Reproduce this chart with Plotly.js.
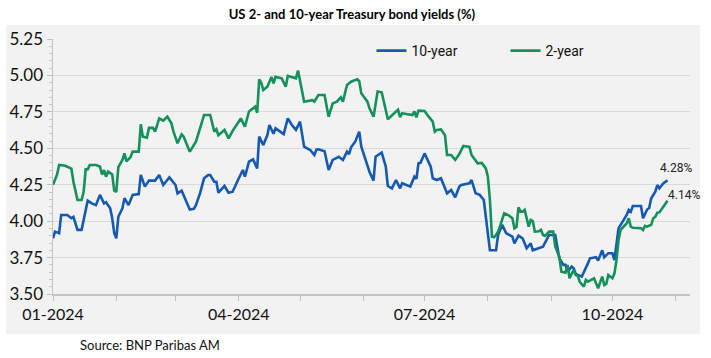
<!DOCTYPE html>
<html>
<head>
<meta charset="utf-8">
<script src="https://cdn.plot.ly/plotly-3.0.1.min.js"></script>
<style>html,body{margin:0;padding:0;background:#fff;}#chart{width:711px;height:358px;}</style>
</head>
<body>
<div id="chart"></div>
<script>
// 10-year yield (%)
const tenYearDates = ['2024-01-01','2024-01-02','2024-01-04','2024-01-05','2024-01-08','2024-01-09','2024-01-10','2024-01-11','2024-01-13','2024-01-15','2024-01-17','2024-01-18','2024-01-20','2024-01-22','2024-01-24','2024-01-25','2024-01-26','2024-01-27','2024-01-29','2024-01-30','2024-01-31','2024-02-01','2024-02-02','2024-02-04','2024-02-05','2024-02-07','2024-02-09','2024-02-12','2024-02-13','2024-02-15','2024-02-17','2024-02-20','2024-02-22','2024-02-24','2024-02-27','2024-03-01','2024-03-02','2024-03-04','2024-03-06','2024-03-08','2024-03-10','2024-03-11','2024-03-13','2024-03-15','2024-03-17','2024-03-18','2024-03-20','2024-03-21','2024-03-22','2024-03-25','2024-03-27','2024-03-29','2024-04-01','2024-04-03','2024-04-04','2024-04-06','2024-04-08','2024-04-10','2024-04-11','2024-04-13','2024-04-15','2024-04-16','2024-04-18','2024-04-19','2024-04-23','2024-04-25','2024-04-27','2024-04-29','2024-05-01','2024-05-03','2024-05-06','2024-05-08','2024-05-09','2024-05-10','2024-05-13','2024-05-15','2024-05-17','2024-05-20','2024-05-22','2024-05-24','2024-05-25','2024-05-26','2024-05-28','2024-05-30','2024-05-31','2024-06-02','2024-06-04','2024-06-06','2024-06-07','2024-06-10','2024-06-12','2024-06-13','2024-06-15','2024-06-17','2024-06-19','2024-06-20','2024-06-24','2024-06-26','2024-06-27','2024-06-28','2024-06-29','2024-07-01','2024-07-04','2024-07-05','2024-07-07','2024-07-09','2024-07-12','2024-07-14','2024-07-16','2024-07-18','2024-07-19','2024-07-23','2024-07-24','2024-07-26','2024-07-28','2024-07-30','2024-07-31','2024-08-02','2024-08-05','2024-08-06','2024-08-08','2024-08-10','2024-08-13','2024-08-14','2024-08-16','2024-08-18','2024-08-20','2024-08-22','2024-08-23','2024-08-28','2024-08-31','2024-09-03','2024-09-05','2024-09-07','2024-09-08','2024-09-09','2024-09-11','2024-09-12','2024-09-13','2024-09-16','2024-09-19','2024-09-20','2024-09-23','2024-09-24','2024-09-26','2024-09-27','2024-09-29','2024-10-01','2024-10-02','2024-10-04','2024-10-06','2024-10-07','2024-10-08','2024-10-09','2024-10-10','2024-10-11','2024-10-15','2024-10-16','2024-10-18','2024-10-19','2024-10-20','2024-10-22','2024-10-23','2024-10-24','2024-10-26','2024-10-28'];
const tenYearVals = [3.882,3.928,3.917,4.042,4.042,4.03,4.02,4.03,3.94,3.94,4.065,4.14,4.122,4.11,4.18,4.145,4.122,4.13,4.088,4.02,3.917,3.882,4.03,4.088,4.157,4.11,4.18,4.186,4.317,4.237,4.278,4.278,4.317,4.248,4.30,4.248,4.191,4.209,4.15,4.08,4.085,4.11,4.19,4.294,4.317,4.317,4.271,4.27,4.195,4.241,4.195,4.202,4.294,4.351,4.305,4.408,4.424,4.362,4.58,4.522,4.591,4.66,4.60,4.637,4.598,4.705,4.66,4.626,4.683,4.511,4.488,4.454,4.49,4.493,4.48,4.351,4.42,4.442,4.42,4.477,4.46,4.507,4.545,4.614,4.511,4.431,4.339,4.278,4.442,4.47,4.374,4.241,4.225,4.282,4.225,4.26,4.237,4.305,4.29,4.397,4.40,4.465,4.374,4.294,4.282,4.294,4.191,4.214,4.164,4.237,4.248,4.26,4.282,4.191,4.18,4.145,4.03,3.80,3.80,3.905,3.974,3.917,3.893,3.848,3.90,3.882,3.814,3.848,3.80,3.825,3.905,3.905,3.745,3.70,3.70,3.653,3.688,3.676,3.637,3.619,3.71,3.745,3.752,3.73,3.80,3.752,3.78,3.78,3.733,3.951,3.997,4.02,4.042,4.077,4.065,4.104,4.104,4.02,4.08,4.09,4.157,4.202,4.248,4.225,4.26,4.28];

// 2-year yield (%)
const twoYearDates = ['2024-01-01','2024-01-03','2024-01-04','2024-01-07','2024-01-10','2024-01-11','2024-01-13','2024-01-15','2024-01-16','2024-01-17','2024-01-18','2024-01-19','2024-01-22','2024-01-24','2024-01-25','2024-01-26','2024-01-27','2024-01-28','2024-01-30','2024-01-31','2024-02-01','2024-02-02','2024-02-04','2024-02-05','2024-02-06','2024-02-08','2024-02-09','2024-02-12','2024-02-13','2024-02-14','2024-02-16','2024-02-17','2024-02-19','2024-02-20','2024-02-22','2024-02-24','2024-02-26','2024-02-28','2024-02-29','2024-03-02','2024-03-04','2024-03-05','2024-03-06','2024-03-08','2024-03-11','2024-03-15','2024-03-18','2024-03-20','2024-03-21','2024-03-22','2024-03-25','2024-03-27','2024-03-29','2024-04-02','2024-04-04','2024-04-06','2024-04-09','2024-04-10','2024-04-11','2024-04-12','2024-04-13','2024-04-15','2024-04-17','2024-04-18','2024-04-19','2024-04-22','2024-04-24','2024-04-25','2024-04-29','2024-04-30','2024-05-03','2024-05-07','2024-05-08','2024-05-10','2024-05-13','2024-05-15','2024-05-17','2024-05-19','2024-05-21','2024-05-22','2024-05-24','2024-05-26','2024-05-29','2024-05-30','2024-05-31','2024-06-03','2024-06-04','2024-06-06','2024-06-08','2024-06-10','2024-06-13','2024-06-17','2024-06-18','2024-06-19','2024-06-20','2024-06-22','2024-06-25','2024-06-26','2024-06-27','2024-06-28','2024-07-01','2024-07-03','2024-07-05','2024-07-06','2024-07-07','2024-07-09','2024-07-11','2024-07-12','2024-07-14','2024-07-16','2024-07-18','2024-07-20','2024-07-23','2024-07-24','2024-07-27','2024-07-29','2024-07-31','2024-08-01','2024-08-02','2024-08-03','2024-08-04','2024-08-05','2024-08-06','2024-08-07','2024-08-09','2024-08-11','2024-08-13','2024-08-14','2024-08-15','2024-08-16','2024-08-17','2024-08-18','2024-08-19','2024-08-21','2024-08-22','2024-08-23','2024-08-24','2024-08-26','2024-08-27','2024-08-28','2024-08-29','2024-08-31','2024-09-02','2024-09-03','2024-09-05','2024-09-06','2024-09-08','2024-09-09','2024-09-10','2024-09-12','2024-09-13','2024-09-14','2024-09-15','2024-09-17','2024-09-18','2024-09-19','2024-09-21','2024-09-22','2024-09-23','2024-09-24','2024-09-25','2024-09-26','2024-09-27','2024-09-28','2024-09-29','2024-10-01','2024-10-02','2024-10-03','2024-10-04','2024-10-05','2024-10-07','2024-10-08','2024-10-09','2024-10-10','2024-10-11','2024-10-15','2024-10-16','2024-10-17','2024-10-18','2024-10-20','2024-10-21','2024-10-22','2024-10-23','2024-10-24','2024-10-26','2024-10-28'];
const twoYearVals = [4.25,4.32,4.385,4.38,4.36,4.27,4.145,4.145,4.20,4.355,4.355,4.385,4.385,4.375,4.32,4.35,4.305,4.34,4.32,4.21,4.20,4.37,4.42,4.465,4.41,4.44,4.477,4.477,4.665,4.58,4.573,4.64,4.64,4.614,4.705,4.69,4.717,4.672,4.614,4.534,4.596,4.58,4.545,4.477,4.545,4.728,4.728,4.614,4.63,4.59,4.626,4.568,4.62,4.705,4.648,4.753,4.786,4.744,4.973,4.95,4.90,4.923,4.99,4.946,4.99,4.98,4.923,4.996,4.98,5.033,4.82,4.83,4.82,4.866,4.866,4.717,4.808,4.82,4.85,4.82,4.934,4.957,4.973,4.96,4.877,4.82,4.775,4.717,4.89,4.884,4.699,4.753,4.765,4.713,4.74,4.735,4.728,4.753,4.713,4.758,4.756,4.717,4.683,4.614,4.626,4.63,4.59,4.454,4.454,4.42,4.46,4.516,4.51,4.454,4.397,4.40,4.362,4.305,4.145,3.893,3.889,3.905,3.928,3.967,4.054,4.042,4.02,3.951,3.96,4.095,4.065,4.065,4.077,3.962,4.008,4.00,3.928,3.93,3.94,3.905,3.898,3.928,3.928,3.825,3.756,3.653,3.646,3.70,3.608,3.665,3.63,3.625,3.584,3.55,3.596,3.585,3.60,3.608,3.573,3.539,3.58,3.619,3.562,3.57,3.63,3.608,3.642,3.733,3.87,3.94,3.97,3.985,4.02,3.962,3.955,3.951,3.94,3.967,3.962,3.975,4.02,4.03,4.058,4.06,4.10,4.14];

const seriesNames = ['10-year', '2-year'];
const monthTicks = ['2024-01-01','2024-02-01','2024-03-01','2024-04-01','2024-05-01','2024-06-01','2024-07-01','2024-08-01','2024-09-01','2024-10-01','2024-11-01'];
const monthLabels = ['01-2024','','','04-2024','','','07-2024','','','10-2024',''];
const yTicks = [3.50, 3.75, 4.00, 4.25, 4.50, 4.75, 5.00, 5.25];

const BLUE = '#1559b2';
const GREEN = '#14905a';

const traces = [
  {x: tenYearDates, y: tenYearVals, name: seriesNames[0], type: 'scatter', mode: 'lines',
   line: {color: BLUE, width: 2.6}},
  {x: twoYearDates, y: twoYearVals, name: seriesNames[1], type: 'scatter', mode: 'lines',
   line: {color: GREEN, width: 2.6}}
];

const lastTen = tenYearVals.length - 1;
const lastTwo = twoYearVals.length - 1;

const layout = {
  width: 711, height: 358,
  margin: {l: 53, r: 21, t: 39, b: 64},
  paper_bgcolor: '#ffffff',
  plot_bgcolor: 'rgba(0,0,0,0)',
  font: {family: 'Lato, sans-serif', color: '#111'},
  title: {text: '<b>US 2- and 10-year Treasury bond yields (%)</b>', font: {family: 'Lato, sans-serif', size: 13, color: '#000'},
          x: 0.495, xanchor: 'center', y: 0.96, yanchor: 'middle'},
  showlegend: true,
  legend: {orientation: 'h', x: 0.5, xanchor: 'left', y: 0.953, yanchor: 'middle',
           bgcolor: 'rgba(0,0,0,0)', font: {family: 'Roboto, sans-serif', size: 14, color: '#111'},
           entrywidth: 89, entrywidthmode: 'pixels', itemwidth: 30},
  xaxis: {type: 'date', range: ['2024-01-01', '2024-11-08'],
          tickvals: monthTicks, ticktext: monthLabels,
          ticks: 'outside', ticklen: 5, tickcolor: '#bfbfbf', tickwidth: 1,
          showline: true, linecolor: '#c4c4c4', linewidth: 1.5,
          showgrid: false, zeroline: false,
          tickfont: {family: 'Lato, sans-serif', size: 16, color: '#111'}},
  yaxis: {range: [3.5, 5.25], tickvals: yTicks, tickformat: '.2f',
          ticks: 'outside', ticklen: 5, tickcolor: '#bfbfbf', tickwidth: 1,
          minor: {dtick: 0.05, ticks: 'outside', ticklen: 3, tickcolor: '#c8c8c8', showgrid: false},
          showline: true, linecolor: '#c4c4c4', linewidth: 1.5,
          showgrid: true, gridcolor: '#d9d9d9', gridwidth: 1, zeroline: false,
          tickfont: {family: 'Lato, sans-serif', size: 17, color: '#111'}},
  shapes: [{type: 'rect', xref: 'paper', yref: 'paper', x0: -0.0738, x1: 1.0157, y0: -0.157, y1: 1.055,
            fillcolor: '#f2f2f2', line: {width: 0}, layer: 'below'}],
  annotations: [
    {x: tenYearDates[lastTen], y: tenYearVals[lastTen], xref: 'x', yref: 'y',
     text: tenYearVals[lastTen].toFixed(2) + '%', showarrow: false, xshift: 8, yshift: 12,
     font: {family: 'Roboto, sans-serif', size: 12, color: '#222'}},
    {x: twoYearDates[lastTwo], y: twoYearVals[lastTwo], xref: 'x', yref: 'y',
     text: twoYearVals[lastTwo].toFixed(2) + '%', showarrow: false, xshift: 16, yshift: 6,
     font: {family: 'Roboto, sans-serif', size: 12, color: '#222'}},
    {x: 0.039, y: -0.2, xref: 'paper', yref: 'paper', xanchor: 'left', yanchor: 'middle',
     text: 'Source: BNP Paribas AM', showarrow: false,
     font: {family: 'Lato, sans-serif', size: 13, color: '#111'}}
  ]
};

Plotly.newPlot('chart', traces, layout, {displayModeBar: false, staticPlot: true});
</script>
</body>
</html>
